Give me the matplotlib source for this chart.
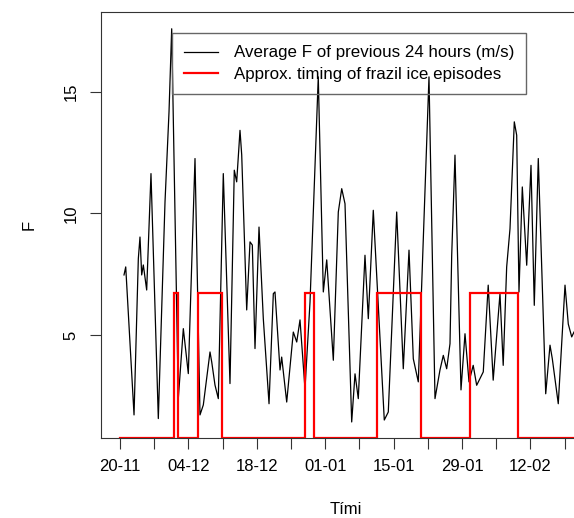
import numpy as np
import matplotlib
matplotlib.use("Agg")
import matplotlib.pyplot as plt
from matplotlib.lines import Line2D

plt.rcParams['font.family'] = ['Liberation Sans', 'DejaVu Sans']

# Black series: days since 20-11, average F of previous 24 hours (m/s)
days = [0.82, 1.17, 2.87, 3.75, 4.09, 4.44, 4.77, 5.46, 6.34, 7.84, 9.21, 10.03, 10.58,
        11.93, 12.96, 13.98, 15.35, 16.37, 17.05, 18.42, 18.77, 19.44, 20.12, 21.14,
        22.51, 23.39, 23.88, 24.56, 24.91, 25.93, 26.61, 27.08, 27.63, 28.45, 29.33,
        30.50, 31.38, 31.72, 32.75, 33.09, 34.12, 35.47, 36.17, 36.84, 37.86, 38.89,
        40.58, 41.61, 42.31, 43.66, 44.68, 45.38, 46.05, 47.42, 48.10, 48.77, 50.14,
        50.82, 51.84, 54.09, 54.91, 56.63, 57.98, 59.15, 60.03, 61.05, 63.24, 64.47,
        65.49, 66.17, 66.86, 67.54, 67.89, 68.56, 69.79, 70.61, 71.43, 72.29, 73.00,
        74.35, 75.36, 76.38, 77.77, 78.43, 79.14, 79.82, 80.70, 81.19, 81.66, 82.34,
        83.24, 84.12, 84.79, 85.61, 87.13, 88.01, 88.48, 89.70, 91.08, 91.75, 92.45, 92.92]
F = [7.47, 7.80, 1.71, 8.14, 9.03, 7.47, 7.88, 6.85, 11.64, 1.56, 10.47, 14.18, 17.60,
     2.38, 5.26, 3.41, 12.26, 1.71, 2.12, 4.30, 3.89, 2.94, 2.38, 11.64,
     3.00, 11.78, 11.30, 13.42, 12.41, 6.03, 8.83, 8.70, 4.44, 9.44, 5.67,
     2.17, 6.70, 6.77, 3.56, 4.09, 2.24, 5.12, 4.71, 5.62, 2.79, 6.36,
     15.62, 6.77, 8.09, 3.96, 10.06, 11.02, 10.40, 1.42, 3.40, 2.38, 8.28,
     5.67, 10.13, 1.50, 1.83, 10.06, 3.61, 8.49, 4.02, 3.07, 15.62, 2.38,
     3.56, 4.16, 3.61, 4.64, 8.28, 12.40, 2.74, 5.05, 3.07, 3.75, 2.93,
     3.48, 7.05, 3.14, 6.70, 3.75, 7.80, 9.37, 13.77, 13.22, 6.77, 11.09,
     7.87, 11.98, 6.22, 12.26, 2.58, 4.58, 4.02, 2.17, 7.05, 5.45, 4.92, 5.12]

# Frazil ice episodes (days since 20-11)
ep_start = [10.95, 15.90, 37.86, 52.66, 71.63]
ep_end = [11.93, 20.81, 39.77, 61.60, 81.52]
ep_high = 6.73
ep_low = 0.78
ep_first, ep_last = 0.0, 100.0

tick_days = list(range(0, 92, 7))
tick_labels = ['20-11', '', '04-12', '', '18-12', '', '01-01', '', '15-01', '', '29-01', '', '12-02', '']
y_ticks = [5, 10, 15]

# Build step series
rx = [ep_first]
ry = [ep_low]
for s, e in zip(ep_start, ep_end):
    rx += [s, s, e, e]
    ry += [ep_low, ep_high, ep_high, ep_low]
rx.append(ep_last)
ry.append(ep_low)

W, H = 574, 518
fig = plt.figure(figsize=(W / 100, H / 100), dpi=100)
ax = fig.add_axes([101 / W, 80 / H, 473 / W, 426 / H])

ax.plot(days, F, color='black', lw=0.9)
ax.plot(rx, ry, color='#ff0000', lw=1.6, solid_joinstyle='miter')

ax.set_xlim(-3.89, 92.92)
ax.set_ylim(0.76, 18.29)

ax.set_xticks(tick_days)
ax.set_xticklabels(tick_labels)
ax.set_yticks(y_ticks)
ax.set_yticklabels([str(v) for v in y_ticks], rotation=90, va='center')

for side in ['left', 'top', 'bottom']:
    ax.spines[side].set_linewidth(0.8)
    ax.spines[side].set_color('#333333')
ax.spines['right'].set_visible(False)

ax.tick_params(axis='both', length=8, width=0.8, color='#333333', labelsize=12)
ax.tick_params(axis='x', pad=7)
ax.tick_params(axis='y', pad=8)

fig.text(29 / W, 1 - 225 / H, 'F', rotation=90, ha='center', va='center', fontsize=12)
fig.text(346 / W, 1 - 510 / H, 'Tími', ha='center', va='center', fontsize=12)

handles = [Line2D([], [], color='black', lw=0.9),
           Line2D([], [], color='#ff0000', lw=1.6)]
leg = ax.legend(handles, ['Average F of previous 24 hours (m/s)',
                          'Approx. timing of frazil ice episodes'],
                loc='upper left', bbox_to_anchor=(171.7 / W, 1 - 33.3 / H),
                bbox_transform=fig.transFigure, fontsize=12.2, frameon=True,
                fancybox=False, edgecolor='#666666',
                handlelength=2.0, handletextpad=0.95, labelspacing=0.38,
                borderpad=0.72, borderaxespad=0)
leg.get_frame().set_linewidth(1.0)
leg.get_frame().set_facecolor('none')
leg.get_frame().set_alpha(None)

fig.savefig('out.png', dpi=100)
